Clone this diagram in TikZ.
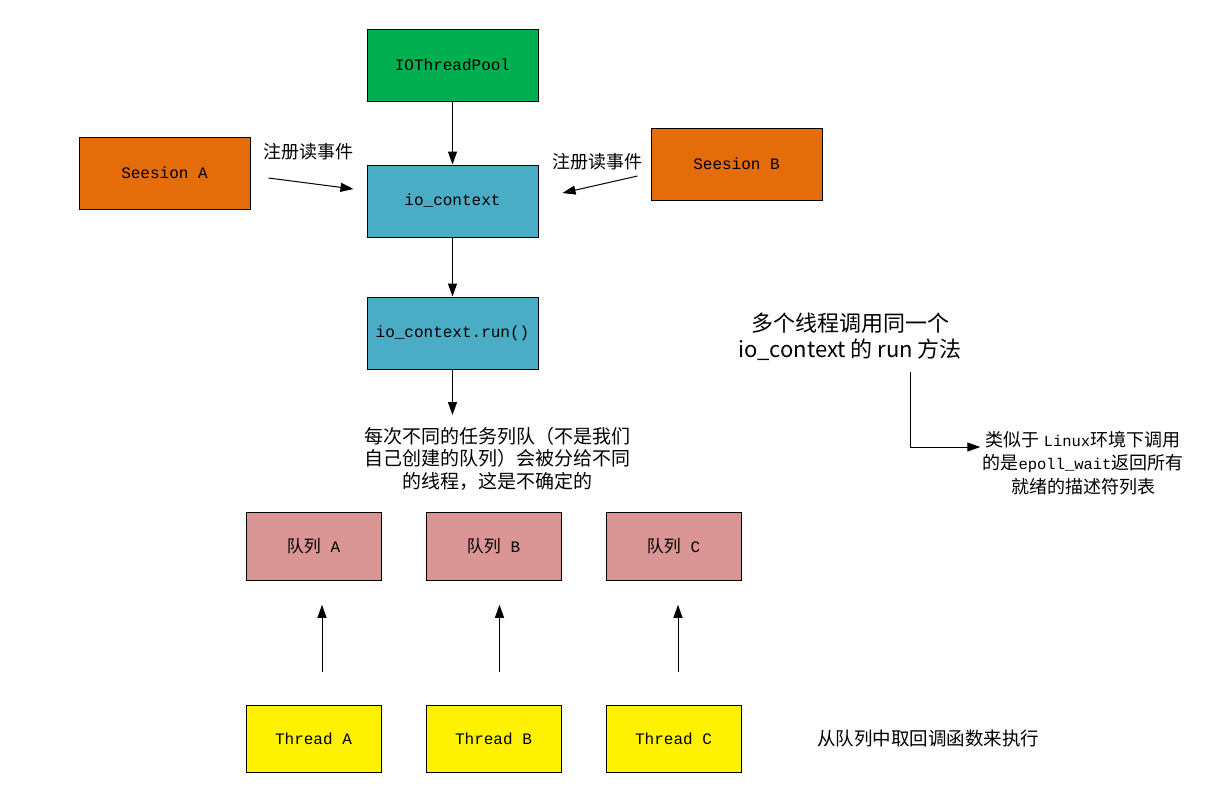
\documentclass[tikz,border=0pt]{standalone}
\usepackage{fontspec}
\setmonofont{Liberation Mono}
\newfontfamily\zhfont{Noto Sans CJK SC}
\usetikzlibrary{arrows.meta,positioning}
\definecolor{poolgreen}{RGB}{0,176,80}
\definecolor{ctxblue}{RGB}{75,172,198}
\definecolor{sessorange}{RGB}{228,108,10}
\definecolor{queuepink}{RGB}{217,150,148}
\newcommand{\zhbox}[1]{{\zhfont\fontsize{17}{20}\selectfont #1}}
\newcommand{\code}[1]{{\ttfamily\fontsize{15.5}{23.5}\selectfont #1}}
\tikzset{
  base/.style={
    draw,
    line width=1pt,
    inner sep=0pt,
    align=center,
    font=\ttfamily\fontsize{16}{18}\selectfont,
  },
  component/.style={
    base,
    minimum width=171pt,
    minimum height=72pt,
  },
  slot/.style={
    base,
    minimum width=135pt,
    minimum height=67.5pt,
  },
  note/.style={
    align=center,
    inner sep=2pt,
    font=\zhfont\fontsize{19}{22.5}\selectfont,
  },
  edge/.style={
    >={Triangle[length=13pt,width=9pt]},
    line width=1pt,
  },
  pre/.style={
    edge,<-,
  },
  post/.style={
    edge,->,
  },
}

\begin{document}
\begin{tikzpicture}[x=1pt,y=-1pt]
    \useasboundingbox (0,0) rectangle (1223,809);

    % main column
    \node [component, fill=poolgreen] (pool) at (452.5,65) {IOThreadPool};
    \node [component, fill=ctxblue, below=63pt of pool] (ctx) {io\_context}
      edge [pre] (pool);
    \node [component, fill=ctxblue, below=59pt of ctx] (run) {io\_context.run()}
      edge [pre] (ctx);

    % sessions
    \node [component, fill=sessorange] (sessA) at (164.5,173) {Seesion A};
    \node [component, fill=sessorange] (sessB) at (736.5,164) {Seesion B};
    \node [note, font=\zhfont\fontsize{18}{22}\selectfont] (regA) at (308,152) {注册读事件};
    \node [note, font=\zhfont\fontsize{18}{22}\selectfont] (regB) at (597,162) {注册读事件};

    \draw[post] ([xshift=18pt,yshift=-5pt] sessA.east) -- ([xshift=-13pt,yshift=12pt] ctx.west);
    \draw[post] ([xshift=-13pt,yshift=-12pt] sessB.west) -- ([xshift=24pt,yshift=8pt] ctx.east);

    % queues and threads
    \node [note, anchor=north] (runnote) at (497,425)
      {每次不同的任务列队（不是我们\\自己创建的队列）会被分给不同\\的线程，这是不确定的};
    \draw[post, shorten >=10pt] (run.south) -- (run.south |- runnote.north);

    \node [slot, fill=queuepink] (qA) at (313.5,546.5) {\zhbox{队列} A};
    \node [slot, fill=queuepink, right=44pt of qA] (qB) {\zhbox{队列} B};
    \node [slot, fill=queuepink, right=44pt of qB] (qC) {\zhbox{队列} C};

    \node [slot, fill=yellow, below=124pt of qA] (thA) {Thread A};
    \node [slot, fill=yellow, below=124pt of qB] (thB) {Thread B};
    \node [slot, fill=yellow, below=124pt of qC] (thC) {Thread C};

    \foreach \n/\s in {A/8.5, B/6, C/4.5}
      \draw[post, shorten <=33pt, shorten >=24pt]
        ([xshift=\s pt] th\n.north) -- ([xshift=\s pt] q\n.south);

    \node [note, font=\zhfont\fontsize{18.5}{22}\selectfont, anchor=west] (fetch)
      at (815,738) {从队列中取回调函数来执行};

    % right side notes
    \node [note, font=\zhfont\fontsize{22}{26}\selectfont] (bignote) at (850,337)
      {多个线程调用同一个\\io\_context 的 run 方法};
    \node [note, font=\zhfont\fontsize{18}{23.5}\selectfont] (linux) at (1083,463)
      {类似于 \code{Linux}环境下调用\\的是\code{epoll\_wait}返回所有\\就绪的描述符列表};
    \draw[post] ([xshift=60pt,yshift=-9pt] bignote.south) |- ([yshift=16pt] linux.west);
\end{tikzpicture}
\end{document}
